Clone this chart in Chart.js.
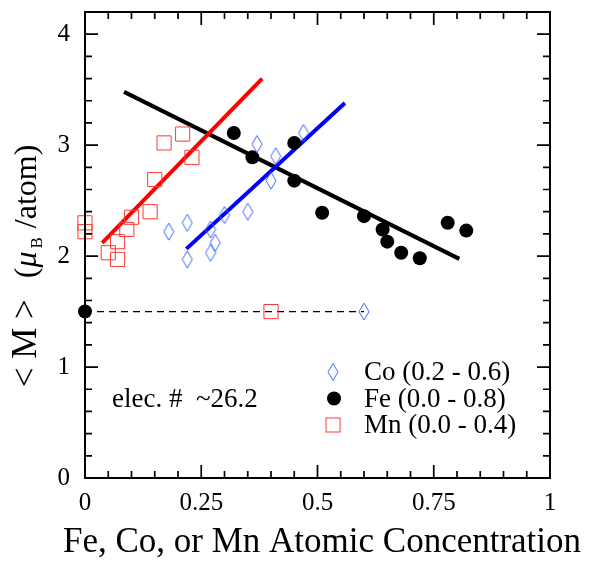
<!DOCTYPE html>
<html>
<head>
<meta charset="utf-8">
<script src="https://cdn.jsdelivr.net/npm/chart.js@4/dist/chart.umd.min.js"></script>
<style>
	html, body { margin: 0; padding: 0; background: #fff; }
	canvas { display: block; }
</style>
</head>
<body>
<canvas id="moment-chart" width="589" height="561"></canvas>
<script>
// Average moment vs. substituent concentration
const coX = [0.18, 0.22, 0.22, 0.27, 0.27, 0.28, 0.30, 0.35, 0.37, 0.40, 0.41, 0.47, 0.60];
const coY = [2.22, 2.30, 1.97, 2.24, 2.03, 2.12, 2.37, 2.40, 3.01, 2.68, 2.90, 3.11, 1.50];

const feX = [0.00, 0.32, 0.36, 0.45, 0.45, 0.51, 0.60, 0.64, 0.65, 0.68, 0.72, 0.78, 0.82];
const feY = [1.50, 3.11, 2.89, 3.02, 2.68, 2.39, 2.36, 2.24, 2.13, 2.03, 1.98, 2.30, 2.23];

const mnX = [0.00, 0.00, 0.05, 0.07, 0.07, 0.09, 0.10, 0.14, 0.15, 0.17, 0.21, 0.23, 0.40];
const mnY = [2.30, 2.22, 2.03, 1.97, 2.13, 2.24, 2.35, 2.40, 2.69, 3.02, 3.10, 2.89, 1.50];

// straight-line fits (end points)
const coFitX = [0.218, 0.559];
const coFitY = [2.065, 3.38];
const feFitX = [0.084, 0.805];
const feFitY = [3.48, 1.975];
const mnFitX = [0.037, 0.381];
const mnFitY = [2.12, 3.60];

// dashed reference at the pure compound value
const refX = [0.0, 0.6];
const refY = [1.5, 1.5];

const xMajorTicks = [0, 0.25, 0.5, 0.75, 1];
const xTickLabels = ['0', '0.25', '0.5', '0.75', '1'];
const yMajorTicks = [0, 1, 2, 3, 4];
const yTickLabels = ['0', '1', '2', '3', '4'];
const xMinorStep = 0.05;
const yMinorStep = 0.2;

const legendLabels = ['Co (0.2 - 0.6)', 'Fe (0.0 - 0.8)', 'Mn (0.0 - 0.4)'];
const noteText = 'elec. #  ~26.2';
const xTitle = 'Fe, Co, or Mn Atomic Concentration';

const SERIF = '"Liberation Serif", "Times New Roman", serif';
const CO_COLOR = '#3c64ff';
const MN_COLOR = '#ff3838';

const pts = (xs, ys) => xs.map((x, i) => ({ x, y: ys[i] }));

// tall open diamond used for the Co points
function diamondImage(w, h, color) {
	const c = document.createElement('canvas');
	c.width = w + 2;
	c.height = h + 2;
	const g = c.getContext('2d');
	g.strokeStyle = color;
	g.lineWidth = 1;
	g.beginPath();
	g.moveTo(c.width / 2, 1);
	g.lineTo(c.width - 1, c.height / 2);
	g.lineTo(c.width / 2, c.height - 1);
	g.lineTo(1, c.height / 2);
	g.closePath();
	g.stroke();
	return c;
}
const diamond = diamondImage(10, 17, CO_COLOR);

const near = (list, v) => list.some(m => Math.abs(m - v) < 1e-6);

// box, inward ticks on all sides, titles, note and legend
const decorations = {
	id: 'decorations',
	afterDatasetsDraw(chart) {
		const { ctx, chartArea: a, scales: { x, y } } = chart;
		ctx.save();
		ctx.strokeStyle = '#000';
		ctx.lineWidth = 2;
		ctx.strokeRect(a.left, a.top, a.right - a.left, a.bottom - a.top);

		ctx.lineWidth = 1.7;
		ctx.beginPath();
		const nx = Math.round((x.max - x.min) / xMinorStep);
		for (let i = 1; i < nx; i++) {
			const v = x.min + i * xMinorStep;
			const len = near(xMajorTicks, v) ? 13 : 7;
			const px = x.getPixelForValue(v);
			ctx.moveTo(px, a.bottom); ctx.lineTo(px, a.bottom - len);
			ctx.moveTo(px, a.top); ctx.lineTo(px, a.top + len);
		}
		const ny = Math.round((y.max - y.min) / yMinorStep);
		for (let i = 1; i < ny; i++) {
			const v = y.min + i * yMinorStep;
			const len = near(yMajorTicks, v) ? 13 : 7;
			const py = y.getPixelForValue(v);
			ctx.moveTo(a.left, py); ctx.lineTo(a.left + len, py);
			ctx.moveTo(a.right, py); ctx.lineTo(a.right - len, py);
		}
		ctx.stroke();
		ctx.restore();
	},
	afterDraw(chart) {
		const { ctx, chartArea: a } = chart;
		ctx.save();
		ctx.fillStyle = '#000';
		ctx.textBaseline = 'alphabetic';

		// x title
		ctx.font = '35px ' + SERIF;
		ctx.textAlign = 'center';
		ctx.fillText(xTitle, a.left + 237, a.bottom + 74);

		// y title, rotated, built from pieces for the subscript
		const parts = [
			{ text: '< M >', font: '35px ' + SERIF, dy: 0, gap: 21 },
			{ text: '(', font: '32px ' + SERIF, dy: 0, gap: 0 },
			{ text: 'μ', font: 'italic 32px ' + SERIF, dy: 0, gap: 3 },
			{ text: 'B', font: '17px ' + SERIF, dy: 6, gap: 9 },
			{ text: '/atom)', font: '32px ' + SERIF, dy: 0, gap: 0 }
		];
		let total = 0;
		parts.forEach(p => { ctx.font = p.font; p.w = ctx.measureText(p.text).width; total += p.w + p.gap; });
		ctx.translate(36, (a.top + a.bottom) / 2 + 21);
		ctx.rotate(-Math.PI / 2);
		ctx.textAlign = 'left';
		let u = -total / 2;
		parts.forEach(p => {
			ctx.font = p.font;
			ctx.fillText(p.text, u, p.dy);
			u += p.w + p.gap;
		});
		ctx.setTransform(1, 0, 0, 1, 0, 0);

		// note
		ctx.font = '27px ' + SERIF;
		ctx.textAlign = 'left';
		ctx.fillText(noteText, a.left + 27, a.bottom - 71);

		// legend
		const lx = a.left + 248;
		const baseY = a.bottom - 98;
		const rowH = 26.5;
		legendLabels.forEach((label, i) => {
			const by = baseY + i * rowH;
			const my = by - 8;
			if (i === 0) {
				ctx.drawImage(diamond, lx - diamond.width / 2, my - diamond.height / 2);
			} else if (i === 1) {
				ctx.beginPath();
				ctx.arc(lx + 1, my, 7, 0, Math.PI * 2);
				ctx.fill();
			} else {
				ctx.strokeStyle = MN_COLOR;
				ctx.lineWidth = 1;
				ctx.strokeRect(lx - 7, my - 7, 14, 14);
			}
			ctx.fillStyle = '#000';
			ctx.font = '27px ' + SERIF;
			ctx.fillText(label, lx + 31, by);
		});
		ctx.restore();
	}
};

const tickFont = { family: SERIF, size: 25 };

new Chart(document.getElementById('moment-chart'), {
	type: 'scatter',
	data: {
		datasets: [
			{
				label: 'Co',
				data: pts(coX, coY),
				pointStyle: diamond,
				pointRadius: 8,
				clip: false,
				order: 1
			},
			{
				label: 'Fe',
				data: pts(feX, feY),
				pointStyle: 'circle',
				pointRadius: 7,
				backgroundColor: '#000',
				borderWidth: 0,
				clip: false,
				order: 2
			},
			{
				label: 'Mn',
				data: pts(mnX, mnY),
				pointStyle: 'rect',
				pointRadius: 10,
				backgroundColor: 'rgba(0,0,0,0)',
				borderColor: MN_COLOR,
				borderWidth: 1,
				clip: false,
				order: 3
			},
			{
				label: 'Co fit',
				data: pts(coFitX, coFitY),
				showLine: true,
				borderColor: '#0000ff',
				borderWidth: 4,
				pointRadius: 0,
				order: 4
			},
			{
				label: 'Mn fit',
				data: pts(mnFitX, mnFitY),
				showLine: true,
				borderColor: '#ff0000',
				borderWidth: 4,
				pointRadius: 0,
				order: 5
			},
			{
				label: 'Fe fit',
				data: pts(feFitX, feFitY),
				showLine: true,
				borderColor: '#000',
				borderWidth: 4,
				pointRadius: 0,
				order: 6
			},
			{
				label: 'ref',
				data: pts(refX, refY),
				showLine: true,
				borderColor: '#000',
				borderWidth: 1.2,
				borderDash: [7, 5],
				pointRadius: 0,
				order: 7
			}
		]
	},
	options: {
		responsive: false,
		animation: false,
		events: [],
		layout: { padding: { top: 12, right: 39, left: 0, bottom: 0 } },
		plugins: {
			legend: { display: false },
			tooltip: { enabled: false }
		},
		scales: {
			x: {
				type: 'linear',
				min: 0,
				max: 1,
				grid: { display: false, drawTicks: false },
				border: { display: false },
				afterBuildTicks: s => { s.ticks = xMajorTicks.map(v => ({ value: v })); },
				afterFit: s => { s.height = 83; s.paddingLeft = 0; s.paddingRight = 0; },
				ticks: {
					autoSkip: false,
					maxRotation: 0,
					padding: 10,
					color: '#000',
					font: tickFont,
					callback: (v, i) => xTickLabels[i]
				}
			},
			y: {
				type: 'linear',
				min: 0,
				max: 4.2,
				grid: { display: false, drawTicks: false },
				border: { display: false },
				afterBuildTicks: s => { s.ticks = yMajorTicks.map(v => ({ value: v })); },
				afterFit: s => { s.width = 85; s.paddingTop = 0; s.paddingBottom = 0; },
				ticks: {
					autoSkip: false,
					padding: 15,
					color: '#000',
					font: tickFont,
					callback: (v, i) => yTickLabels[i]
				}
			}
		}
	},
	plugins: [decorations]
});
</script>
</body>
</html>
